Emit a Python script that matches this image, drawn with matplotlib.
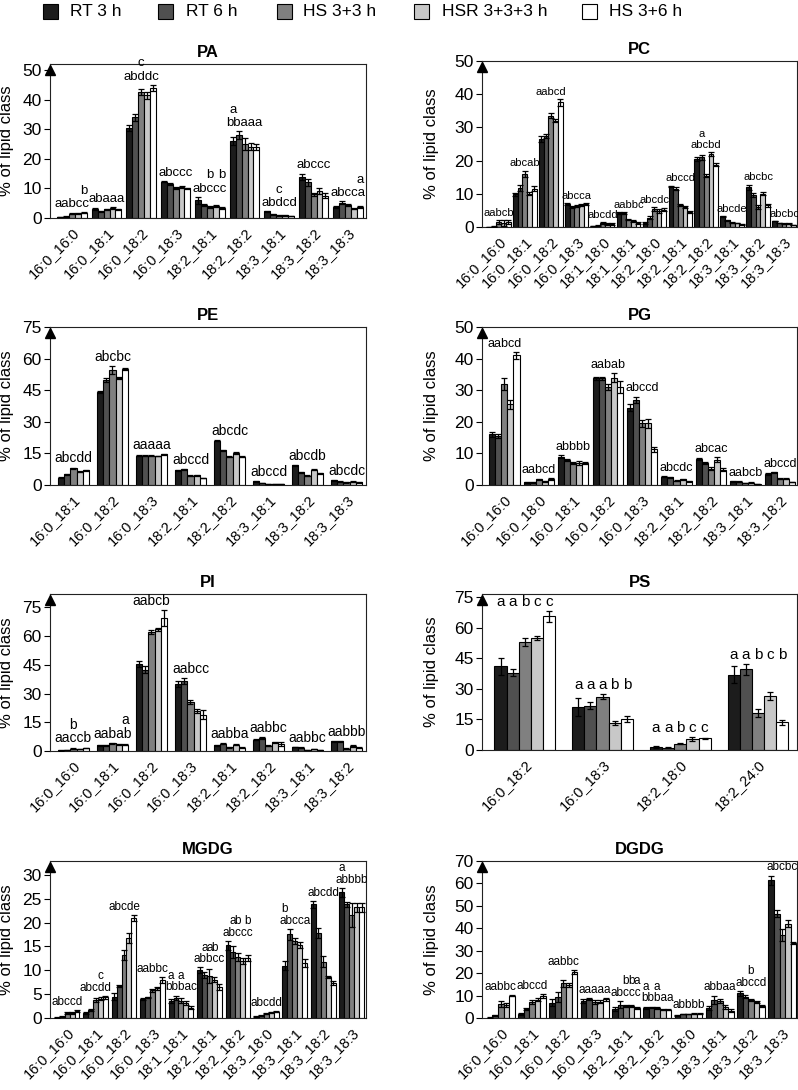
import matplotlib
matplotlib.use('Agg')
import matplotlib.pyplot as plt
from matplotlib.patches import Rectangle
import matplotlib.transforms as mtransforms
import numpy as np

plt.rcParams['font.family'] = ['Liberation Sans', 'DejaVu Sans']

W, H = 798, 1090

treatments = ['RT 3 h', 'RT 6 h', 'HS 3+3 h', 'HSR 3+3+3 h', 'HS 3+6 h']
colors = ['#1c1c1c', '#505050', '#808080', '#c8c8c8', '#ffffff']

# ---------------- PA ----------------
PA_cats = ['16:0_16:0', '16:0_18:1', '16:0_18:2', '16:0_18:3', '18:2_18:1',
           '18:2_18:2', '18:3_18:1', '18:3_18:2', '18:3_18:3']
PA_vals = [[0.4, 0.5, 1.5, 1.6, 1.8],
           [3.0, 2.2, 2.9, 3.4, 2.9],
           [30.5, 34.0, 42.5, 41.5, 44.0],
           [12.3, 11.5, 10.2, 10.5, 10.0],
           [6.0, 4.5, 3.8, 4.0, 3.5],
           [26.0, 28.0, 25.0, 24.0, 24.0],
           [2.2, 1.2, 0.9, 0.9, 0.7],
           [14.0, 12.0, 8.0, 9.0, 7.5],
           [3.8, 5.2, 4.3, 3.2, 3.8]]
PA_err = [[0.1, 0.1, 0.2, 0.2, 0.2],
          [0.3, 0.2, 0.3, 0.3, 0.3],
          [1.0, 1.2, 1.0, 1.2, 1.0],
          [0.3, 0.3, 0.3, 0.3, 0.2],
          [1.2, 0.3, 0.3, 0.3, 0.3],
          [1.2, 1.3, 2.0, 1.2, 1.0],
          [0.2, 0.1, 0.1, 0.1, 0.1],
          [1.0, 1.2, 0.5, 1.0, 0.8],
          [0.3, 0.4, 0.3, 0.3, 0.3]]
PA_letters = ['aabcc', 'abaaa', 'abddc', 'abccc', 'abccc', 'bbaaa', 'abdcd', 'abccc', 'abcca']
PA_upper = ['    b', '', '  c  ', '', '  b b', 'a    ', '  c  ', '', '    a']

# ---------------- PC ----------------
PC_cats = ['16:0_16:0', '16:0_18:1', '16:0_18:2', '16:0_18:3', '18:1_18:0', '18:1_18:1',
           '18:2_18:0', '18:2_18:1', '18:2_18:2', '18:3_18:1', '18:3_18:2', '18:3_18:3']
PC_vals = [[0.1, 0.2, 1.5, 1.2, 1.5],
           [9.8, 11.8, 16.0, 10.0, 11.5],
           [26.5, 27.5, 33.5, 32.0, 37.5],
           [7.0, 6.0, 6.2, 6.5, 7.0],
           [0.3, 0.4, 1.2, 0.9, 0.8],
           [4.2, 4.2, 2.2, 1.8, 1.2],
           [1.2, 2.8, 5.5, 4.8, 5.2],
           [12.2, 11.5, 6.5, 6.0, 4.5],
           [20.5, 21.0, 15.5, 22.0, 18.8],
           [3.2, 2.0, 1.3, 1.2, 0.8],
           [12.0, 9.5, 6.0, 10.0, 6.5],
           [1.8, 1.2, 1.0, 1.0, 0.6]]
PC_err = [[0.05, 0.1, 0.6, 0.8, 0.6],
          [0.5, 1.0, 1.0, 0.5, 0.8],
          [0.8, 0.6, 0.8, 0.5, 1.0],
          [0.3, 0.3, 0.3, 0.3, 0.3],
          [0.1, 0.1, 0.4, 0.3, 0.3],
          [0.2, 0.2, 0.2, 0.2, 0.3],
          [0.3, 0.4, 0.6, 0.5, 0.4],
          [0.3, 0.4, 0.3, 0.3, 0.3],
          [0.5, 0.8, 0.5, 0.5, 0.5],
          [0.2, 0.2, 0.1, 0.1, 0.1],
          [0.8, 0.6, 0.5, 0.5, 0.5],
          [0.1, 0.1, 0.1, 0.1, 0.1]]
PC_letters = ['aabcb', 'abcab', 'aabcd', 'abcca', 'abcdd', 'aabbc', 'abcdc', 'abccd',
              'abcbd', 'abcde', 'abcbc', 'abcbc']
PC_upper = ['', '', '', '', '', '', '', '', ' a   ', '', '', '']

# ---------------- PE ----------------
PE_cats = ['16:0_18:1', '16:0_18:2', '16:0_18:3', '18:2_18:1', '18:2_18:2',
           '18:3_18:1', '18:3_18:2', '18:3_18:3']
PE_vals = [[3.5, 5.0, 8.0, 6.3, 7.0],
           [44.0, 50.0, 54.5, 51.0, 55.0],
           [14.0, 14.0, 14.0, 13.8, 14.5],
           [7.0, 7.5, 4.5, 4.7, 3.3],
           [21.0, 16.5, 13.5, 15.2, 13.5],
           [1.7, 1.0, 0.6, 0.6, 0.4],
           [9.3, 6.0, 4.5, 7.2, 5.5],
           [2.2, 1.6, 1.2, 1.6, 1.2]]
PE_err = [[0.2, 0.2, 0.3, 0.2, 0.2],
          [0.5, 1.0, 1.8, 0.5, 0.5],
          [0.2, 0.2, 0.2, 0.2, 0.2],
          [0.2, 0.2, 0.2, 0.2, 0.2],
          [0.3, 0.3, 0.3, 0.3, 0.3],
          [0.1, 0.1, 0.1, 0.1, 0.1],
          [0.3, 0.2, 0.2, 0.2, 0.2],
          [0.1, 0.1, 0.1, 0.1, 0.1]]
PE_letters = ['abcdd', 'abcbc', 'aaaaa', 'abccd', 'abcdc', 'abccd', 'abcdb', 'abcdc']
PE_upper = [''] * 8

# ---------------- PG ----------------
PG_cats = ['16:0_16:0', '16:0_18:0', '16:0_18:1', '16:0_18:2', '16:0_18:3',
           '18:2_18:1', '18:2_18:2', '18:3_18:1', '18:3_18:2']
PG_vals = [[16.0, 15.5, 32.0, 25.5, 41.0],
           [0.8, 0.8, 1.8, 1.2, 2.0],
           [9.0, 7.8, 7.0, 7.0, 7.0],
           [33.8, 33.8, 31.0, 34.0, 31.0],
           [24.5, 27.0, 19.5, 19.5, 11.3],
           [2.6, 2.4, 1.4, 1.8, 1.2],
           [8.2, 7.0, 5.2, 8.0, 4.8],
           [1.2, 1.1, 0.6, 0.7, 0.3],
           [3.4, 4.0, 2.0, 2.0, 0.9]]
PG_err = [[0.8, 0.5, 1.8, 1.5, 1.0],
          [0.1, 0.1, 0.2, 0.2, 0.3],
          [0.4, 0.3, 0.3, 0.6, 0.3],
          [0.5, 0.5, 1.0, 1.3, 2.0],
          [1.0, 1.0, 1.2, 1.5, 0.8],
          [0.2, 0.2, 0.2, 0.2, 0.2],
          [0.3, 0.3, 0.5, 0.8, 0.5],
          [0.1, 0.1, 0.1, 0.1, 0.1],
          [0.3, 0.2, 0.2, 0.2, 0.1]]
PG_letters = ['aabcd', 'aabcd', 'abbbb', 'aabab', 'abccd', 'abcdc', 'abcac', 'aabcb', 'abccd']
PG_upper = [''] * 9

# ---------------- PI ----------------
PI_cats = ['16:0_16:0', '16:0_18:1', '16:0_18:2', '16:0_18:3', '18:2_18:1',
           '18:2_18:2', '18:3_18:1', '18:3_18:2']
PI_vals = [[0.3, 0.5, 1.3, 1.0, 1.6],
           [3.0, 3.0, 4.0, 3.5, 3.2],
           [45.5, 42.5, 62.0, 63.5, 69.5],
           [35.0, 36.5, 25.5, 21.0, 19.0],
           [3.0, 3.7, 2.0, 3.3, 1.8],
           [6.0, 6.8, 2.8, 4.5, 3.5],
           [2.0, 1.8, 0.5, 0.9, 0.5],
           [5.0, 5.0, 1.2, 2.6, 1.8]]
PI_err = [[0.1, 0.1, 0.2, 0.2, 0.2],
          [0.2, 0.2, 0.2, 0.3, 0.3],
          [1.5, 2.0, 1.0, 1.0, 4.0],
          [1.5, 1.5, 1.0, 1.0, 2.5],
          [0.2, 0.3, 0.2, 0.2, 0.2],
          [0.3, 0.3, 0.3, 0.3, 1.0],
          [0.1, 0.1, 0.1, 0.1, 0.1],
          [0.2, 0.2, 0.2, 0.3, 0.3]]
PI_letters = ['aaccb', 'aabab', 'aabcb', 'aabcc', 'aabba', 'aabbc', 'aabbc', 'aabbb']
PI_upper = ['  b  ', '    a', '', '', '', '', '', '']

# ---------------- PS ----------------
PS_cats = ['16:0_18:2', '16:0_18:3', '18:2_18:0', '18:2_24:0']
PS_vals = [[41.0, 38.0, 53.0, 55.0, 65.5],
           [21.2, 21.7, 26.2, 13.2, 15.3],
           [1.5, 1.2, 3.0, 5.3, 5.8],
           [37.0, 39.5, 18.3, 26.5, 13.5]]
PS_err = [[4.0, 1.5, 1.8, 1.0, 2.5],
          [4.5, 1.8, 1.2, 0.8, 1.5],
          [0.3, 0.3, 0.3, 1.0, 0.3],
          [4.0, 2.5, 2.0, 1.8, 1.3]]
PS_letters = ['aabcc', 'aaabb', 'aabcc', 'aabcb']
PS_upper = [''] * 4

# ---------------- MGDG ----------------
MGDG_cats = ['16:0_16:0', '16:0_18:1', '16:0_18:2', '16:0_18:3', '18:1_18:1',
             '18:2_18:1', '18:2_18:2', '18:3_18:0', '18:3_18:1', '18:3_18:2', '18:3_18:3']
MGDG_vals = [[0.1, 0.3, 1.0, 1.0, 1.4],
             [1.0, 1.7, 3.8, 4.0, 4.3],
             [4.5, 6.8, 13.2, 16.8, 21.0],
             [3.9, 4.3, 5.8, 6.2, 8.0],
             [3.6, 4.2, 3.6, 3.2, 2.2],
             [10.0, 9.0, 8.8, 8.0, 6.5],
             [15.2, 13.8, 12.8, 12.0, 12.5],
             [0.3, 0.5, 0.9, 1.2, 1.3],
             [11.0, 17.5, 16.2, 15.3, 11.5],
             [23.8, 17.8, 11.8, 8.6, 7.4],
             [26.3, 23.8, 21.5, 23.2, 23.2]]
MGDG_err = [[0.05, 0.1, 0.2, 0.2, 0.2],
            [0.2, 0.2, 0.4, 0.3, 0.3],
            [0.7, 0.2, 1.0, 1.0, 0.6],
            [0.2, 0.2, 0.3, 0.3, 0.6],
            [0.4, 0.5, 0.5, 0.4, 0.3],
            [0.6, 0.6, 1.5, 0.5, 0.7],
            [1.0, 1.3, 0.8, 0.6, 0.6],
            [0.05, 0.1, 0.1, 0.1, 0.1],
            [0.9, 1.2, 0.6, 0.6, 0.8],
            [0.8, 1.0, 1.2, 0.3, 0.4],
            [1.0, 0.5, 2.5, 1.0, 1.0]]
MGDG_letters = ['abccd', 'abcdd', 'abcde', 'aabbc', 'bbbac', 'abbcc', 'abccc', 'abcdd',
                'abcca', 'abcdd', 'abbbb']
MGDG_upper = ['', '   c ', '', '', 'a a  ', ' aab ', ' ab b', '', 'b    ', '', 'a    ']

# ---------------- DGDG ----------------
DGDG_cats = ['16:0_16:0', '16:0_18:1', '16:0_18:2', '16:0_18:3', '18:2_18:1',
             '18:2_18:2', '18:3_18:0', '18:3_18:1', '18:3_18:2', '18:3_18:3']
DGDG_vals = [[0.2, 1.3, 6.3, 5.8, 10.0],
             [1.8, 4.0, 7.2, 8.2, 9.8],
             [6.8, 9.5, 15.5, 14.8, 20.5],
             [7.5, 8.5, 7.2, 7.3, 8.3],
             [4.0, 6.0, 5.3, 5.2, 4.5],
             [4.5, 4.8, 4.5, 3.7, 3.7],
             [1.2, 1.8, 1.8, 2.0, 2.0],
             [4.5, 8.2, 7.5, 5.0, 3.3],
             [11.0, 9.5, 8.0, 7.3, 5.5],
             [61.5, 46.5, 37.0, 42.0, 33.5]]
DGDG_err = [[0.1, 0.2, 1.2, 1.0, 0.3],
            [0.3, 0.4, 1.0, 0.8, 0.8],
            [1.5, 2.2, 1.5, 0.8, 1.0],
            [0.8, 0.5, 1.0, 0.8, 0.5],
            [0.8, 1.5, 0.5, 0.5, 0.3],
            [0.3, 0.3, 0.3, 0.3, 0.3],
            [0.2, 0.2, 0.2, 0.2, 0.2],
            [1.0, 1.8, 1.0, 0.8, 0.5],
            [1.2, 0.8, 0.5, 0.5, 0.4],
            [2.0, 1.5, 2.5, 1.5, 0.5]]
DGDG_letters = ['aabbc', 'abccd', 'aabbc', 'aaaaa', 'abccc', 'bbbaa', 'abbbb', 'abbaa',
                'abccd', 'abcbc']
DGDG_upper = ['', '', '', '', '  bba', 'a a  ', '', '', '  b  ', '']

REG = ['Liberation Sans', 'DejaVu Sans']

# (title, cats, vals, err, letters, upper, box px (l, r, top, bottom), ylim, ystep,
#  group frac, xlim left/right pad, letter size, per-bar letters)
panels = [
    ('PA', PA_cats, PA_vals, PA_err, PA_letters, PA_upper, (50, 366, 64, 218), 52, 10, 0.86, 0.64, 0.52, 9.5, False),
    ('PC', PC_cats, PC_vals, PC_err, PC_letters, PC_upper, (482, 797, 61, 227), 50, 10, 0.91, 0.65, 0.5, 8, False),
    ('PE', PE_cats, PE_vals, PE_err, PE_letters, PE_upper, (50, 366, 327, 485), 75, 15, 0.80, 0.6, 0.5, 10, False),
    ('PG', PG_cats, PG_vals, PG_err, PG_letters, PG_upper, (482, 797, 327, 485), 50, 10, 0.88, 0.65, 0.5, 9, False),
    ('PI', PI_cats, PI_vals, PI_err, PI_letters, PI_upper, (50, 366, 594, 751), 82, 15, 0.80, 0.6, 0.5, 10, False),
    ('PS', PS_cats, PS_vals, PS_err, PS_letters, PS_upper, (482, 797, 594, 750), 76.5, 15, 0.78, 0.55, 0.5, 11, True),
    ('MGDG', MGDG_cats, MGDG_vals, MGDG_err, MGDG_letters, MGDG_upper, (50, 366, 861, 1018), 32.9, 5, 0.87, 0.6, 0.5, 8.5, False),
    ('DGDG', DGDG_cats, DGDG_vals, DGDG_err, DGDG_letters, DGDG_upper, (482, 797, 861, 1018), 70, 10, 0.89, 0.6, 0.47, 8.5, False),
]

fig = plt.figure(figsize=(W / 100, H / 100), dpi=100)

for (title, cats, vals, err, letters, upper, box, ymax, ystep, gfrac, lpad, rpad,
     lsize, perbar) in panels:
    l, r, t, b = box
    ax = fig.add_axes([l / W, 1 - b / H, (r - l) / W, (b - t) / H])
    n = len(cats)
    vals_a = np.array(vals)
    err_a = np.array(err)
    bw = gfrac / 5
    x = np.arange(n)
    for j in range(5):
        ax.bar(x + (j - 2) * bw, vals_a[:, j], width=bw, color=colors[j],
               edgecolor='black', linewidth=0.8, zorder=2)
        ax.errorbar(x + (j - 2) * bw, vals_a[:, j], yerr=err_a[:, j], fmt='none',
                    ecolor='black', elinewidth=0.9, capsize=2.2, capthick=0.9, zorder=3)
    ax.set_xlim(-lpad, n - 1 + rpad)
    ax.set_ylim(0, ymax)
    ax.set_yticks(np.arange(0, ymax + 0.01, ystep))
    ax.set_xticks(x)
    ax.set_xticklabels(cats, rotation=45, ha='right', rotation_mode='anchor', fontsize=10.5)
    ax.tick_params(axis='x', length=0, pad=5)
    ax.tick_params(axis='y', labelsize=12.5, length=4, width=0.8, direction='out', pad=2)
    for s in ax.spines.values():
        s.set_linewidth(0.8)
        s.set_color('#222222')
    ax.set_title(title, fontsize=12, fontweight='bold', pad=5)
    ax.set_ylabel('% of lipid class', fontsize=12)
    ax.yaxis.set_label_coords(-0.113 if l < 400 else -0.135, 0.5)
    # arrow at top of y-axis
    tr = mtransforms.offset_copy(ax.transAxes, fig=fig, x=0, y=-4, units='points')
    ax.plot([0], [1], marker='^', color='black', markersize=7, transform=tr, clip_on=False, zorder=5)
    # significance letters
    for i in range(n):
        top = max(vals_a[i] + err_a[i])
        if perbar:
            for j, ch in enumerate(letters[i]):
                ax.annotate(ch, (i + (j - 2) * bw, top), xytext=(0, 1.5), textcoords='offset points',
                            ha='center', va='bottom', fontsize=lsize, family=REG)
        else:
            ax.annotate(letters[i], (i, top), xytext=(0, 1.5), textcoords='offset points',
                        ha='center', va='bottom', fontsize=lsize, family=REG)
        if upper[i]:
            for j, ch in enumerate(upper[i]):
                if ch != ' ':
                    ax.annotate(ch, (i + (j - 2) * bw, top), xytext=(0, 1.5 + lsize * 1.0),
                                textcoords='offset points', ha='center', va='bottom',
                                fontsize=lsize, family=REG)

# legend
sq_left = [43, 158, 277, 414, 582]
txt_left = [70, 186, 303, 442, 609]
for k in range(5):
    fig.patches.append(Rectangle((sq_left[k] / W, 1 - 19 / H), 15 / W, 15 / H,
                                 transform=fig.transFigure, facecolor=colors[k],
                                 edgecolor='black', linewidth=0.8))
    fig.text(txt_left[k] / W, 1 - 11.5 / H, treatments[k], fontsize=12.5, va='center', ha='left')

fig.savefig('out.png', dpi=100)
